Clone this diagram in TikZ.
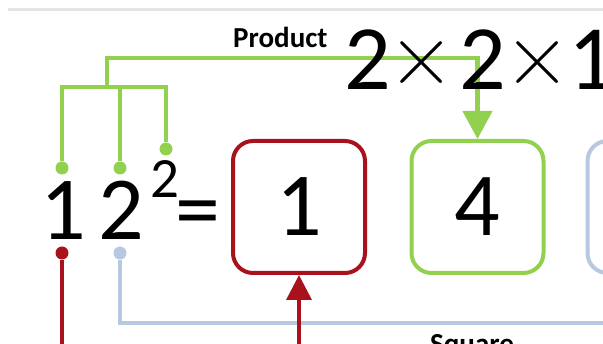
\documentclass[tikz,border=0pt]{standalone}
\usepackage{fontspec}
\setmainfont{Carlito}
\newfontfamily\lmfont{Latin Modern Roman}
\usetikzlibrary{arrows.meta}
\definecolor{cred}{RGB}{168,18,28}
\definecolor{cgreen}{RGB}{146,208,80}
\definecolor{cblue}{RGB}{185,200,225}
\definecolor{cgray}{RGB}{228,228,228}
\newcommand{\thintimes}{\makebox[0pt][c]{\raisebox{4pt}{\lmfont ×}}}
\begin{document}
\begin{tikzpicture}[x=1pt,y=-1pt,
  big/.style={font=\fontsize{90}{90}\selectfont, inner sep=0pt},
  supfont/.style={font=\fontsize{57}{57}\selectfont, inner sep=0pt},
  lbl/.style={font=\bfseries\fontsize{29}{29}\selectfont, inner sep=0pt},
  valbox/.style={draw, line width=4pt, rounded corners=20pt, minimum width=132pt, minimum height=132pt, inner sep=0pt, font=\fontsize{90}{90}\selectfont},
  dot/.style={circle, fill, inner sep=0pt, minimum size=13pt},
  gconn/.style={draw=cgreen, line width=4.5pt},
  rconn/.style={draw=cred, line width=3.5pt},
  bconn/.style={draw=cblue, line width=4pt},
]
\useasboundingbox (0,0) rectangle (603,344);
\clip (0,0) rectangle (603,344);
\fill[white] (0,0) rectangle (603,344);
% top rule
\coordinate (tl) at (8,10);
\coordinate (tr) at (610,10);
\draw[cgray, line width=3pt] (tl) -- (tr);

% boxes
\node[valbox, draw=cred] (rbox) at (299,207) {1};
\node[valbox, draw=cgreen] (gbox) at (477.5,207) {4};
\node[valbox, draw=cblue] (bbox) at (653.5,207) {};

% dots
\node[dot, fill=cgreen] (d1) at (62,168) {};
\node[dot, fill=cgreen] (d2) at (120,168) {};
\node[dot, fill=cgreen] (d3) at (166,149) {};
\node[dot, fill=cred] (r1) at (62,253) {};
\node[dot, fill=cblue] (b1) at (120,253) {};

% helper coordinates
\coordinate (gR) at (166,87);
\coordinate (gM) at (107,87);
\coordinate (gT) at (107,58);
\coordinate (rEnd) at (62,352);
\coordinate (bEnd) at (612,323);
\coordinate (aStart) at (299,352);

% green connectors
\draw[gconn] (d1) |- (gR) -- (d3);
\draw[gconn] (d2) -- (d2 |- gR);
\draw[gconn, -{Triangle[length=28pt,width=29pt]}] (gM) -- (gT) -| (gbox.north);

% red and blue connectors
\draw[rconn] (r1) -- (rEnd);
\draw[bconn] (b1) |- (bEnd);
\draw[rconn, -{Triangle[length=25pt,width=25pt]}] (aStart) -- (rbox.south);

% texts
\node[lbl, anchor=base west] (product) at (233,48) {Product};
\node[lbl, anchor=base west] (square) at (430,354) {Square};
\node[big, font=\fontsize{92}{92}\selectfont, anchor=base west] (prodexpr) at (344,90)
  {2\hspace{31pt}\thintimes\hspace{38pt}2\hspace{31pt}\thintimes\hspace{31pt}1};
\node[big, anchor=base] (n1) at (63,240) {1};
\node[big, anchor=base] (n2) at (121,240) {2};
\node[supfont, anchor=base] (sup) at (165,198) {2};
\node[big, anchor=base] (eq) at (198,240) {=};
\end{tikzpicture}
\end{document}
